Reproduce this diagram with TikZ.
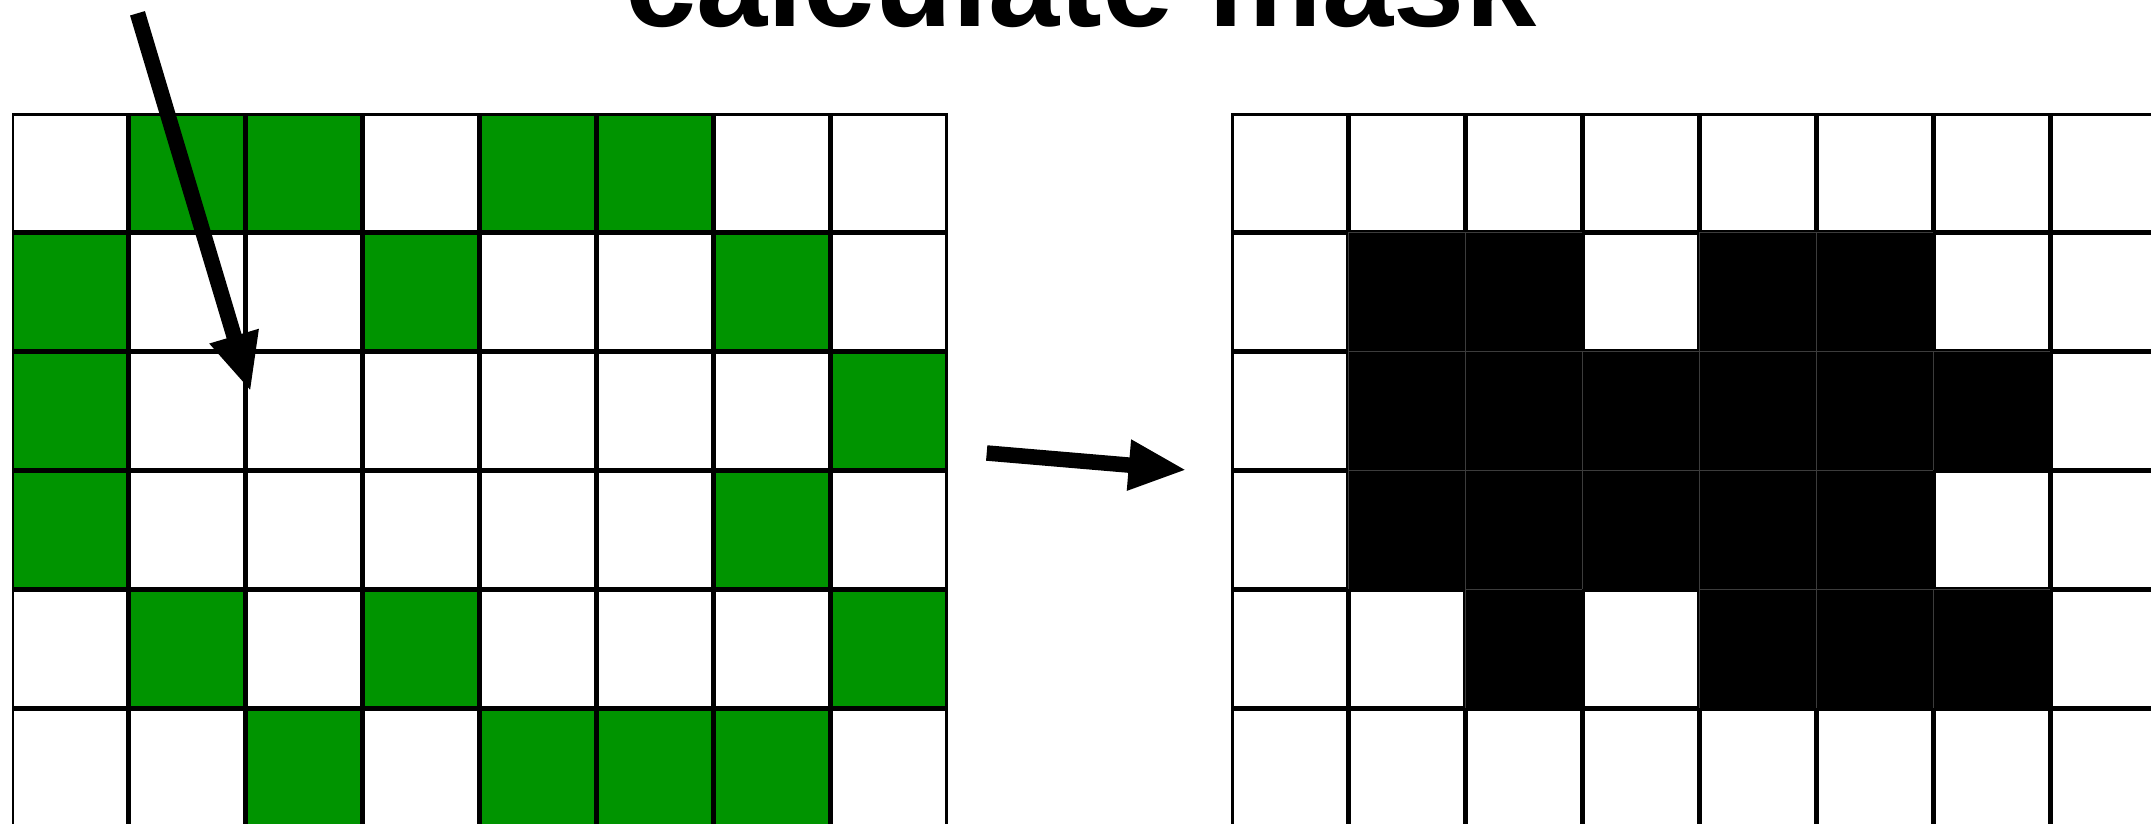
\documentclass[tikz,border=0pt]{standalone}
\usepackage{fontspec}
\setmainfont{Liberation Sans}
\usetikzlibrary{arrows.meta}
\definecolor{cellgreen}{RGB}{0,148,0}
\definecolor{seamgray}{RGB}{60,60,60}
\begin{document}
\begin{tikzpicture}[x=0.5pt,y=-0.5pt,
  cell/.style={draw=black, line width=1.25pt, inner sep=0pt, outer sep=0pt,
    minimum width=57.25pt, minimum height=58.25pt},
  blackcell/.style={draw=seamgray, line width=0.4pt, fill=black, inner sep=0pt, outer sep=0pt,
    minimum width=58.5pt, minimum height=59.5pt},
  bigarrow/.style={line width=7.75pt, -{Triangle[length=29pt,width=23.5pt]}},
  titletext/.style={font=\fontsize{64}{70}\selectfont\bfseries, anchor=base, inner sep=0pt}]
\fill[white] (0,0) rectangle (2151,824);
\useasboundingbox (0,0) rectangle (2151,824);
\clip (0,0) rectangle (2151,824);
% left grid (input)
\foreach \row [count=\r] in {{0,1,1,0,1,1,0,0},{1,0,0,1,0,0,1,0},{1,0,0,0,0,0,0,1},{1,0,0,0,0,0,1,0},{0,1,0,1,0,0,0,1},{0,0,1,0,1,1,1,0}}{
  \foreach \v [count=\c] in \row {
    \ifnum\v=1 \def\fc{cellgreen}\else\def\fc{white}\fi
    \node[cell, fill=\fc] (L\r-\c) at ({70.2+117*(\c-1)}, {172.8+119*(\r-1)}) {};
  }
}
% right grid (mask): white cells first, then black cells
\foreach \row [count=\r] in {{0,0,0,0,0,0,0,0},{0,1,1,0,1,1,0,0},{0,1,1,1,1,1,1,0},{0,1,1,1,1,1,0,0},{0,0,1,0,1,1,1,0},{0,0,0,0,0,0,0,0}}{
  \foreach \v [count=\c] in \row {
    \ifnum\v=1
      \node[blackcell] (R\r-\c) at ({1289.5+117*(\c-1)}, {172.8+119*(\r-1)}) {};
    \else
      \node[cell, fill=white] (R\r-\c) at ({1289.5+117*(\c-1)}, {172.8+119*(\r-1)}) {};
    \fi
  }
}
% title
\node[titletext] (title) at (1081,26.7) {calculate mask};
% arrows
\coordinate (a1s) at (137.5,13.3);
\coordinate (a1e) at (250.7,391.7);
\draw[bigarrow] (a1s) -- (a1e);
\coordinate (a2s) at (986.7,453);
\coordinate (a2e) at (1186.7,470);
\draw[bigarrow] (a2s) -- (a2e);
\end{tikzpicture}
\end{document}
